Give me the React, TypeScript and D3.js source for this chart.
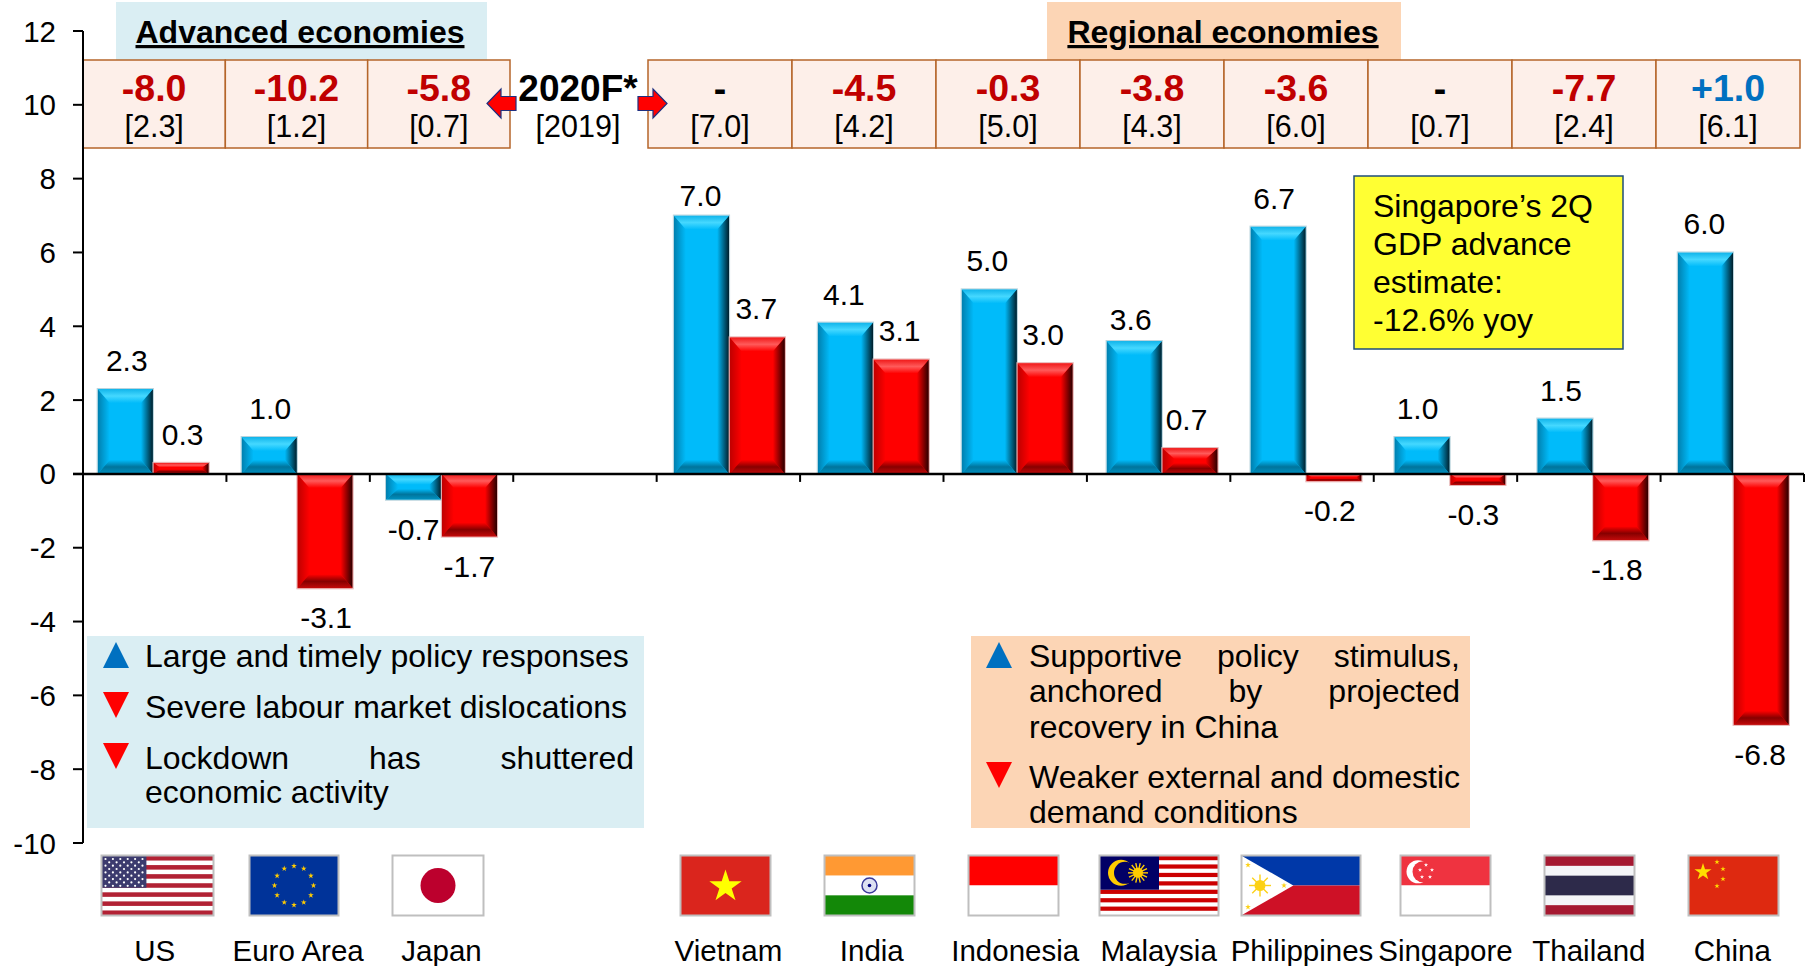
import React from "react";
import * as d3 from "d3";

// Real GDP growth by economy, % yoy: 1Q 2020 against the previous year's figure
const categories = ["US", "Euro Area", "Japan", "", "Vietnam", "India", "Indonesia", "Malaysia", "Philippines", "Singapore", "Thailand", "China"];
const growthBlue = [2.3, 1.0, -0.7, null, 7.0, 4.1, 5.0, 3.6, 6.7, 1.0, 1.5, 6.0];
const growthRed = [0.3, -3.1, -1.7, null, 3.7, 3.1, 3.0, 0.7, -0.2, -0.3, -1.8, -6.8];

const yTicks = [12, 10, 8, 6, 4, 2, 0, -2, -4, -6, -8, -10];

const advancedForecast = ["-8.0", "-10.2", "-5.8"];
const advancedPrior = ["[2.3]", "[1.2]", "[0.7]"];
const regionalForecast = ["-", "-4.5", "-0.3", "-3.8", "-3.6", "-", "-7.7", "+1.0"];
const regionalPrior = ["[7.0]", "[4.2]", "[5.0]", "[4.3]", "[6.0]", "[0.7]", "[2.4]", "[6.1]"];

const FONT = "'Liberation Sans', Arial, sans-serif";
const W = 1814;
const H = 966;
const plot = { left: 83, right: 1804, top: 31, bottom: 843 };

const x = d3.scaleBand<string>().domain(categories.map((c, i) => `${i}`)).range([plot.left, plot.right]);
const inner = d3.scaleBand<string>().domain(["blue", "red"]).range([0, x.bandwidth()]).paddingOuter(0.29).paddingInner(0.01);
const y = d3.scaleLinear().domain([-10, 12]).range([plot.bottom, plot.top]);

// The bar pairs drift slightly off their band centres along the axis
const pairShift = [-1.5, -1, 0, 0, 1, 1.5, 2, 3.5, 4, 4.5, 4, 1];

// Labels of two bars sit closer to their tops than the rest
const labelLift: Record<string, number> = { "blue-4": 10, "blue-7": 11 };

const palettes = {
  blue: { id: "b", face: "#00BBFA", top: "#45D8FF", topOuter: "#10B4EA", left: "#007FAE", bottom: "#00749C", bottomOuter: "#0092C2", right: "#001E2A", edge: "#B9D3DC" },
  red: { id: "r", face: "#FF0000", top: "#FF5A5A", topOuter: "#F01818", left: "#BE0000", bottom: "#860000", bottomOuter: "#C40A0A", right: "#280000", edge: "#E6B4B4" },
};

function Defs() {
  return (
    <defs>
      {Object.values(palettes).map((p) => (
        <React.Fragment key={p.id}>
          <linearGradient id={`${p.id}-left`} x1="0" x2="1" y1="0" y2="0">
            <stop offset="0" stopColor={p.left} />
            <stop offset="1" stopColor={p.face} />
          </linearGradient>
          <linearGradient id={`${p.id}-right`} x1="1" x2="0" y1="0" y2="0">
            <stop offset="0" stopColor={p.right} />
            <stop offset="1" stopColor={p.face} />
          </linearGradient>
          <linearGradient id={`${p.id}-top`} x1="0" x2="0" y1="0" y2="1">
            <stop offset="0" stopColor={p.topOuter} />
            <stop offset="0.5" stopColor={p.top} />
            <stop offset="1" stopColor={p.face} />
          </linearGradient>
          <linearGradient id={`${p.id}-bottom`} x1="0" x2="0" y1="1" y2="0">
            <stop offset="0" stopColor={p.bottomOuter} />
            <stop offset="0.5" stopColor={p.bottom} />
            <stop offset="1" stopColor={p.face} />
          </linearGradient>
        </React.Fragment>
      ))}
    </defs>
  );
}

// A bar with a chamfered edge: four slanted sides around a flat face
function BevelBar({ x0, y0, w, h, kind }: { x0: number; y0: number; w: number; h: number; kind: "blue" | "red" }) {
  const p = palettes[kind];
  const bv = Math.min(14, h * 0.42);
  const bh = Math.min(12, h * 0.42 + 2);
  const x1 = x0 + w;
  const y1 = y0 + h;
  const pts = (a: number[][]) => a.map((q) => q.join(",")).join(" ");
  return (
    <g>
      <rect x={x0} y={y0} width={w} height={h} fill={p.face} />
      <polygon points={pts([[x0, y0], [x0 + bh, y0 + bv], [x0 + bh, y1 - bv], [x0, y1]])} fill={`url(#${p.id}-left)`} />
      <polygon points={pts([[x1, y0], [x1 - bh, y0 + bv], [x1 - bh, y1 - bv], [x1, y1]])} fill={`url(#${p.id}-right)`} />
      <polygon points={pts([[x0, y0], [x1, y0], [x1 - bh, y0 + bv], [x0 + bh, y0 + bv]])} fill={`url(#${p.id}-top)`} />
      <polygon points={pts([[x0, y1], [x1, y1], [x1 - bh, y1 - bv], [x0 + bh, y1 - bv]])} fill={`url(#${p.id}-bottom)`} />
      <rect x={x0 - 0.5} y={y0 - 0.5} width={w + 1} height={h + 1} fill="none" stroke={p.edge} strokeWidth={1} />
    </g>
  );
}

function Bars() {
  const series: ["blue" | "red", (number | null)[]][] = [["blue", growthBlue], ["red", growthRed]];
  return (
    <g>
      {series.map(([kind, values]) =>
        values.map((v, i) => {
          if (v === null) return null;
          const slot = x(`${i}`)! + inner(kind)!;
          const top = y(Math.max(v, 0));
          const bottom = y(Math.min(v, 0));
          const lift = labelLift[`${kind}-${i}`] ?? 18;
          const ly = v >= 0 ? top - lift : bottom + 40;
          return (
            <g key={`${kind}-${i}`}>
              <BevelBar x0={slot + pairShift[i]} y0={top} w={inner.bandwidth()} h={bottom - top} kind={kind} />
              <text x={slot + inner.bandwidth() / 2} y={ly} textAnchor="middle" fontSize={30} fill="#000">
                {v.toFixed(1)}
              </text>
            </g>
          );
        })
      )}
    </g>
  );
}

function Axes() {
  return (
    <g stroke="#000" fill="none">
      <line x1={plot.left} x2={plot.left} y1={plot.top} y2={plot.bottom} strokeWidth={2} />
      {yTicks.map((t) => (
        <g key={t}>
          <line x1={plot.left - 10} x2={plot.left} y1={y(t)} y2={y(t)} strokeWidth={2} />
          <text x={56} y={y(t) + 10.5} textAnchor="end" fontSize={29.5} fill="#000" stroke="none">{t}</text>
        </g>
      ))}
      <line x1={plot.left - 10} x2={plot.right} y1={y(0)} y2={y(0)} strokeWidth={2.5} />
      {d3.range(0, categories.length + 1).map((i) => {
        const tx = plot.left + i * x.step();
        return <line key={i} x1={tx} x2={tx} y1={y(0)} y2={y(0) + 8} strokeWidth={2} />;
      })}
    </g>
  );
}

function CellRow({ left, right, top, bottom, forecast, prior }: { left: number; right: number; top: number; bottom: number; forecast: string[]; prior: string[] }) {
  const cell = d3.scaleBand<number>().domain(d3.range(forecast.length)).range([left, right]);
  return (
    <g>
      {forecast.map((f, i) => {
        const cx = cell(i)!;
        const mid = cx + cell.bandwidth() / 2;
        const color = f.startsWith("+") ? "#0070C0" : f === "-" ? "#000" : "#C00000";
        return (
          <g key={i}>
            <rect x={cx} y={top} width={cell.bandwidth()} height={bottom - top} fill="#FDEFE9" stroke="#B5652A" strokeWidth={1.5} />
            <text x={mid} y={100.5} textAnchor="middle" fontSize={37.5} fontWeight="bold" fill={color}>{f}</text>
            <text x={mid} y={137} textAnchor="middle" fontSize={30.5} fill="#000">{prior[i]}</text>
          </g>
        );
      })}
    </g>
  );
}

function Table() {
  const arrow = (tip: number, dir: number) => {
    const base = tip + dir * 14;
    const end = tip + dir * 29;
    return `${tip},103.5 ${base},89 ${base},96.5 ${end},96.5 ${end},110.5 ${base},110.5 ${base},118`;
  };
  return (
    <g>
      <rect x={116} y={2} width={371} height={58} fill="#DAEEF3" />
      <rect x={1047} y={2} width={354} height={58} fill="#FCD5B5" />
      <text x={300} y={43} textAnchor="middle" fontSize={32} fontWeight="bold" textDecoration="underline">Advanced economies</text>
      <text x={1223} y={43} textAnchor="middle" fontSize={32} fontWeight="bold" textDecoration="underline">Regional economies</text>
      <CellRow left={83} right={510} top={60} bottom={148} forecast={advancedForecast} prior={advancedPrior} />
      <CellRow left={648} right={1800} top={60} bottom={148} forecast={regionalForecast} prior={regionalPrior} />
      <text x={578} y={100.5} textAnchor="middle" fontSize={37} fontWeight="bold">2020F*</text>
      <text x={578} y={137} textAnchor="middle" fontSize={30.5}>[2019]</text>
      <polygon points={arrow(487, 1)} fill="#FF0000" stroke="#1F2F7F" strokeWidth={1.2} />
      <polygon points={arrow(667, -1)} fill="#FF0000" stroke="#1F2F7F" strokeWidth={1.2} />
    </g>
  );
}

const NOTE_SIZE = 32;

// Stretches the gaps between words so a line fills the given width
function JustifiedLine({ text, x0, x1, baseline }: { text: string; x0: number; x1: number; baseline: number }) {
  const ctx = document.createElement("canvas").getContext("2d")!;
  ctx.font = `${NOTE_SIZE}px 'Liberation Sans'`;
  const words = text.split(" ");
  const widths = words.map((w) => ctx.measureText(w).width);
  const gap = (x1 - x0 - d3.sum(widths)) / (words.length - 1);
  let cursor = x0;
  return (
    <g>
      {words.map((w, i) => {
        const at = cursor;
        cursor += widths[i] + gap;
        return <text key={i} x={at} y={baseline}>{w}</text>;
      })}
    </g>
  );
}

function Triangle({ x0, top, up }: { x0: number; top: number; up: boolean }) {
  const w = 26;
  const h = 26;
  const pts = up
    ? `${x0},${top + h} ${x0 + w},${top + h} ${x0 + w / 2},${top}`
    : `${x0},${top} ${x0 + w},${top} ${x0 + w / 2},${top + h}`;
  return <polygon points={pts} fill={up ? "#0070C0" : "#FF0000"} />;
}

function Notes() {
  return (
    <g fontSize={NOTE_SIZE}>
      <rect x={87} y={636} width={557} height={192} fill="#DAEEF3" />
      <Triangle x0={103} top={642} up />
      <Triangle x0={103} top={692} up={false} />
      <Triangle x0={103} top={743} up={false} />
      <text x={145} y={667}>Large and timely policy responses</text>
      <text x={145} y={718}>Severe labour market dislocations</text>
      <JustifiedLine text="Lockdown has shuttered" x0={145} x1={634} baseline={769} />
      <text x={145} y={803}>economic activity</text>

      <rect x={971} y={636} width={499} height={192} fill="#FCD5B5" />
      <Triangle x0={986} top={642} up />
      <Triangle x0={986} top={762} up={false} />
      <JustifiedLine text="Supportive policy stimulus," x0={1029} x1={1460} baseline={667} />
      <JustifiedLine text="anchored by projected" x0={1029} x1={1460} baseline={702} />
      <text x={1029} y={738}>recovery in China</text>
      <JustifiedLine text="Weaker external and domestic" x0={1029} x1={1460} baseline={788} />
      <text x={1029} y={823}>demand conditions</text>

      <rect x={1354} y={176} width={269} height={173} fill="#FFFF33" stroke="#1F4E79" strokeWidth={1.5} />
      <text x={1373} y={217}>Singapore’s 2Q</text>
      <text x={1373} y={255}>GDP advance</text>
      <text x={1373} y={293}>estimate:</text>
      <text x={1373} y={331}>-12.6% yoy</text>
    </g>
  );
}

const starPath = (r: number) => d3.symbol().type(d3.symbolStar).size((r * r) / 0.8908)()!;

function Star({ cx, cy, r, fill }: { cx: number; cy: number; r: number; fill: string }) {
  return <path d={starPath(r)} transform={`translate(${cx},${cy})`} fill={fill} />;
}

function Sun({ cx, cy, r, fill, rays }: { cx: number; cy: number; r: number; fill: string; rays: number }) {
  return (
    <g>
      <circle cx={cx} cy={cy} r={r * 0.5} fill={fill} />
      {d3.range(rays).map((i) => {
        const a = (i / rays) * 2 * Math.PI;
        return <line key={i} x1={cx} y1={cy} x2={cx + r * Math.cos(a)} y2={cy + r * Math.sin(a)} stroke={fill} strokeWidth={1.4} />;
      })}
    </g>
  );
}

const stripes = (n: number, w: number, h: number, colour: string) =>
  d3.range(0, n, 2).map((i) => <rect key={i} x={0} y={(i * h) / n} width={w} height={h / n} fill={colour} />);

// Each flag is drawn in its own box, with the origin at its top-left corner
const flagArt: Record<string, (w: number, h: number) => React.ReactNode> = {
  US: (w, h) => {
    const cw = w * 0.4;
    const ch = (h * 7) / 13;
    return (
      <>
        <rect width={w} height={h} fill="#fff" />
        {stripes(13, w, h, "#B22234")}
        <rect width={cw} height={ch} fill="#3C3B6E" />
        {d3.range(5).map((r) => d3.range(6).map((c) => (
          <circle key={`${r}${c}`} cx={3.5 + c * 7.4} cy={3 + r * 6.7} r={1.1} fill="#fff" />
        )))}
        {d3.range(4).map((r) => d3.range(5).map((c) => (
          <circle key={`o${r}${c}`} cx={7.2 + c * 7.4} cy={6.3 + r * 6.7} r={1.1} fill="#fff" />
        )))}
      </>
    );
  },
  EU: (w, h) => (
    <>
      <rect width={w} height={h} fill="#003399" />
      {d3.range(12).map((i) => {
        const a = (i / 12) * 2 * Math.PI;
        return <Star key={i} cx={w / 2 + 19.5 * Math.sin(a)} cy={h / 2 - 19.5 * Math.cos(a)} r={3} fill="#FFCC00" />;
      })}
    </>
  ),
  JP: (w, h) => (
    <>
      <rect width={w} height={h} fill="#fff" />
      <circle cx={w / 2} cy={h / 2} r={17.5} fill="#BC002D" />
    </>
  ),
  VN: (w, h) => (
    <>
      <rect width={w} height={h} fill="#DA251D" />
      <Star cx={w / 2} cy={h / 2 + 1} r={17} fill="#FFFF00" />
    </>
  ),
  IN: (w, h) => (
    <>
      <rect width={w} height={h / 3} fill="#FF9933" />
      <rect y={h / 3} width={w} height={h / 3} fill="#fff" />
      <rect y={(2 * h) / 3} width={w} height={h / 3} fill="#138808" />
      <circle cx={w / 2} cy={h / 2} r={7.5} fill="#DDE0F2" stroke="#3A3A9A" strokeWidth={1.5} />
      <circle cx={w / 2} cy={h / 2} r={1.8} fill="#000080" />
    </>
  ),
  ID: (w, h) => (
    <>
      <rect width={w} height={h / 2} fill="#FF0000" />
      <rect y={h / 2} width={w} height={h / 2} fill="#fff" />
    </>
  ),
  MY: (w, h) => {
    const cw = w * 0.5;
    const ch = (h * 8) / 14;
    return (
      <>
        <rect width={w} height={h} fill="#fff" />
        {stripes(14, w, h, "#CC0001")}
        <rect width={cw} height={ch} fill="#010066" />
        <circle cx={21} cy={ch / 2} r={13} fill="#FFCC00" />
        <circle cx={25} cy={ch / 2} r={11} fill="#010066" />
        <Sun cx={38} cy={ch / 2} r={10} fill="#FFCC00" rays={14} />
      </>
    );
  },
  PH: (w, h) => (
    <>
      <rect width={w} height={h / 2} fill="#0038A8" />
      <rect y={h / 2} width={w} height={h / 2} fill="#CE1126" />
      <polygon points={`0,0 ${h * 0.87},${h / 2} 0,${h}`} fill="#fff" />
      <Sun cx={18} cy={h / 2} r={11} fill="#FCD116" rays={8} />
      <Star cx={6} cy={9} r={3} fill="#FCD116" />
      <Star cx={6} cy={h - 8} r={3} fill="#FCD116" />
      <Star cx={42} cy={h / 2} r={3} fill="#FCD116" />
    </>
  ),
  SG: (w, h) => (
    <>
      <rect width={w} height={h / 2} fill="#EF3340" />
      <rect y={h / 2} width={w} height={h / 2} fill="#fff" />
      <circle cx={17} cy={h / 4 + 1} r={11.5} fill="#fff" />
      <circle cx={22} cy={h / 4 + 1} r={10.5} fill="#EF3340" />
      <Star cx={25} cy={9} r={2.2} fill="#fff" />
      <Star cx={31} cy={14} r={2.2} fill="#fff" />
      <Star cx={19} cy={14} r={2.2} fill="#fff" />
      <Star cx={21} cy={21} r={2.2} fill="#fff" />
      <Star cx={29} cy={21} r={2.2} fill="#fff" />
    </>
  ),
  TH: (w, h) => (
    <>
      <rect width={w} height={h} fill="#A51931" />
      <rect y={h / 6} width={w} height={(2 * h) / 3} fill="#F4F5F8" />
      <rect y={h / 3} width={w} height={h / 3} fill="#2D2A4A" />
    </>
  ),
  CN: (w, h) => (
    <>
      <rect width={w} height={h} fill="#DE2910" />
      <Star cx={14} cy={16} r={9} fill="#FFDE00" />
      <Star cx={28} cy={6} r={2.8} fill="#FFDE00" />
      <Star cx={34} cy={13} r={2.8} fill="#FFDE00" />
      <Star cx={34} cy={23} r={2.8} fill="#FFDE00" />
      <Star cx={28} cy={30} r={2.8} fill="#FFDE00" />
    </>
  ),
};

const flagCodes = ["US", "EU", "JP", "", "VN", "IN", "ID", "MY", "PH", "SG", "TH", "CN"];
const flagSpans: number[][] = [[102, 213], [250, 338], [393, 483], [], [681, 770], [825, 914], [969, 1058], [1100, 1218], [1242, 1360], [1401, 1490], [1545, 1634], [1689, 1778]];

function Flags() {
  const top = 856;
  const h = 59;
  return (
    <g>
      {flagCodes.map((code, i) => {
        if (!code) return null;
        const [a, b] = flagSpans[i];
        const clip = `flag-${code}`;
        return (
          <g key={code} transform={`translate(${a},${top})`}>
            <clipPath id={clip}><rect width={b - a} height={h} /></clipPath>
            <g clipPath={`url(#${clip})`}>{flagArt[code](b - a, h)}</g>
            <rect x={-0.5} y={-0.5} width={b - a + 1} height={h + 1} fill="none" stroke="#BFBFBF" strokeWidth={2} />
          </g>
        );
      })}
      {categories.map((c, i) => (
        <text key={i} x={x(`${i}`)! + x.bandwidth() / 2} y={961} textAnchor="middle" fontSize={29.5}>{c}</text>
      ))}
    </g>
  );
}

export default function App() {
  return (
    <svg width={W} height={H} viewBox={`0 0 ${W} ${H}`} fontFamily={FONT} style={{ position: "absolute", left: 0, top: 0, background: "#fff" }}>
      <Defs />
      <Table />
      <Notes />
      <Bars />
      <Axes />
      <Flags />
    </svg>
  );
}
